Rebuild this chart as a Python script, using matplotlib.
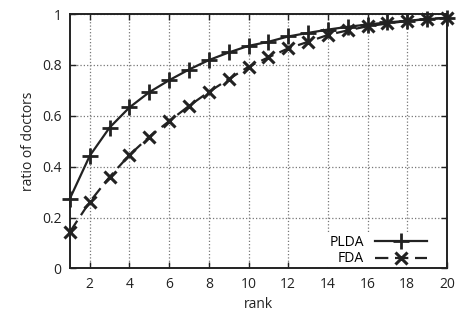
import numpy as np
import matplotlib
matplotlib.use("Agg")
import matplotlib.pyplot as plt

rank = list(range(1, 21))
plda = [0.275, 0.443, 0.554, 0.633, 0.693, 0.740, 0.782, 0.819, 0.849, 0.875,
        0.891, 0.912, 0.926, 0.939, 0.950, 0.959, 0.967, 0.974, 0.980, 0.985]
fda = [0.144, 0.262, 0.360, 0.446, 0.518, 0.579, 0.639, 0.694, 0.744, 0.793,
       0.830, 0.865, 0.891, 0.918, 0.936, 0.952, 0.963, 0.973, 0.980, 0.986]

plt.rcParams["font.family"] = ["Open Sans", "DejaVu Sans"]
ink = "#222222"

fig = plt.figure(figsize=(4.57, 3.2), dpi=100)
ax = fig.add_axes([0.153, 0.161, 0.825, 0.795])

ax.plot(rank, plda, color=ink, lw=1.6, marker="+", ms=11, mew=2, label="PLDA",
        clip_on=False, zorder=3)
ax.plot(rank, fda, color=ink, lw=1.6, ls=(0, (6, 3)), marker="x", ms=9, mew=2.2,
        label="FDA", clip_on=False, zorder=3)

ax.set_xlim(1, 20)
ax.set_ylim(0, 1)
ax.set_xticks(range(2, 21, 2))
ax.set_yticks([0, 0.2, 0.4, 0.6, 0.8, 1])
ax.set_yticklabels(["0", "0.2", "0.4", "0.6", "0.8", "1"])
ax.grid(True, color="#777777", ls=":", lw=0.9)
ax.tick_params(direction="in", top=True, right=True, length=4, width=1,
               labelsize=10, colors=ink, pad=6)
for s in ax.spines.values():
    s.set_linewidth(1.4)
    s.set_color(ink)

ax.set_xlabel("rank", fontsize=10, color=ink, labelpad=4)
ax.set_ylabel("ratio of doctors", fontsize=10, color=ink, labelpad=4)

leg = ax.legend(loc="lower right", markerfirst=False, frameon=True, fontsize=10,
                handlelength=3.7, handletextpad=0.8, borderpad=0.2,
                labelspacing=0.1, bbox_to_anchor=(0.972, -0.03))
leg.get_frame().set_facecolor("white")
leg.get_frame().set_edgecolor("none")
leg.get_frame().set_alpha(1)
leg.set_zorder(2.2)

fig.savefig("out.png", dpi=100)
